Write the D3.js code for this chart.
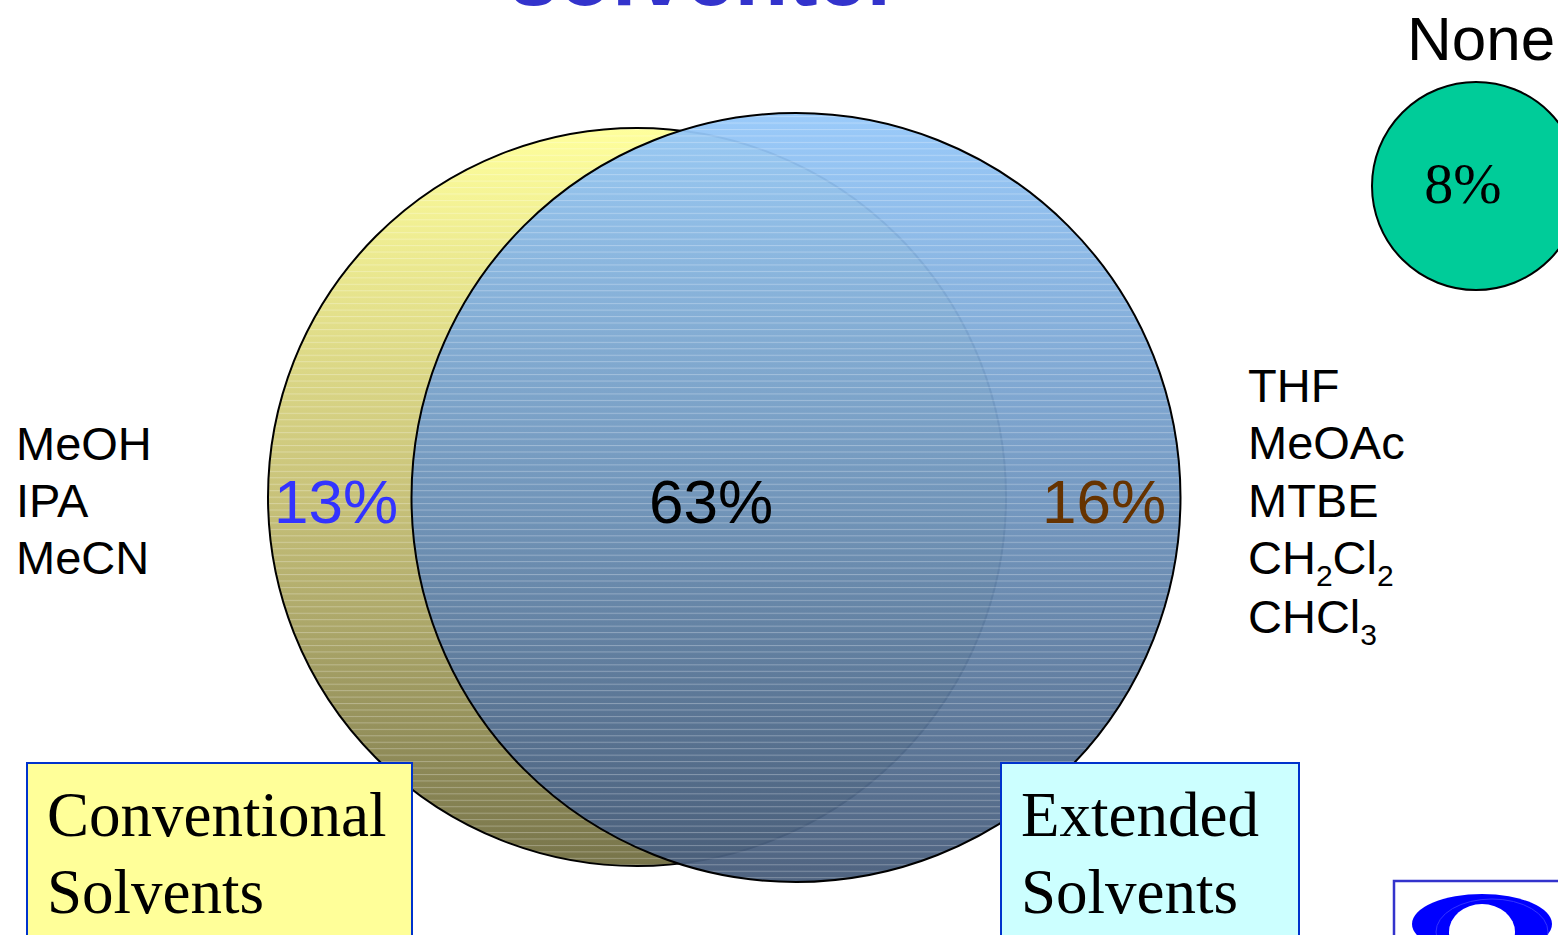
<!DOCTYPE html>
<html>
<head>
<meta charset="utf-8">
<script src="https://cdn.jsdelivr.net/npm/d3@7"></script>
<style>
  html, body { margin: 0; padding: 0; background: #fff; }
  svg { display: block; }
</style>
</head>
<body>
<svg id="chart" width="1558" height="935"></svg>
<script>
// ---------------- data ----------------
const titleText = "solventer";
const regionNames = ["Conventional only", "Both", "Extended only", "None"];
const regionShares = [13, 63, 16, 8];
const regionColors = ["#3333FF", "#000000", "#663300", "#000000"];
const setNames = ["Conventional", "Extended"];
const setBoxLabels = [["Conventional", "Solvents"], ["Extended", "Solvents"]];
const conventionalSolvents = ["MeOH", "IPA", "MeCN"];
const extendedSolvents = ["THF", "MeOAc", "MTBE", "CH_2Cl_2", "CHCl_3"];
const noneLabel = "None";

// ---------------- layout ----------------
const W = 1558, H = 935;
const svg = d3.select("#chart");
const defs = svg.append("defs");

const circles = [
  { key: "Conventional", cx: 637, cy: 497, r: 369, top: "#FFFF9C", mid: "#C8C27A", bot: "#77744A", opacity: 1 },
  { key: "Extended", cx: 796, cy: 497.5, r: 384.5, top: "#95C8FA", mid: "#6E94BE", bot: "#465B79", opacity: 0.95 }
];

// gradients
circles.forEach((c, i) => {
  const g = defs.append("linearGradient")
    .attr("id", "grad" + i)
    .attr("gradientUnits", "userSpaceOnUse")
    .attr("x1", 0).attr("x2", 0)
    .attr("y1", c.cy - c.r).attr("y2", c.cy + c.r);
  g.append("stop").attr("offset", "0%").attr("stop-color", c.top);
  g.append("stop").attr("offset", "50%").attr("stop-color", c.mid);
  g.append("stop").attr("offset", "100%").attr("stop-color", c.bot);
  defs.append("clipPath").attr("id", "clip" + i)
    .append("circle").attr("cx", c.cx).attr("cy", c.cy).attr("r", c.r);
});

// stripe pattern
const pat = defs.append("pattern")
  .attr("id", "stripes")
  .attr("patternUnits", "userSpaceOnUse")
  .attr("width", 20).attr("height", 6.45);
pat.append("rect").attr("x", 0).attr("y", 0).attr("width", 20).attr("height", 1)
  .attr("fill", "#ffffff").attr("fill-opacity", 0.28);

// ---------------- title (cut off at top) ----------------
svg.append("text")
  .attr("x", 705).attr("y", 5)
  .attr("text-anchor", "middle")
  .attr("font-family", "Liberation Sans, Arial, sans-serif")
  .attr("font-weight", "bold")
  .attr("font-size", 88)
  .attr("fill", "#3333CC")
  .text(titleText);

// ---------------- circles ----------------
const cg = svg.append("g");
circles.forEach((c, i) => {
  const g = cg.append("g");
  g.append("circle")
    .attr("cx", c.cx).attr("cy", c.cy).attr("r", c.r)
    .attr("fill", `url(#grad${i})`)
    .attr("fill-opacity", c.opacity);
  g.append("rect")
    .attr("x", c.cx - c.r).attr("y", c.cy - c.r)
    .attr("width", 2 * c.r).attr("height", 2 * c.r)
    .attr("fill", "url(#stripes)")
    .attr("clip-path", `url(#clip${i})`);
  g.append("circle")
    .attr("cx", c.cx).attr("cy", c.cy).attr("r", c.r)
    .attr("fill", "none")
    .attr("stroke", "#000").attr("stroke-width", 2);
});

// None circle
const noneCircle = { cx: 1476, cy: 186, r: 104 };
svg.append("circle")
  .attr("cx", noneCircle.cx).attr("cy", noneCircle.cy).attr("r", noneCircle.r)
  .attr("fill", "#00CC99").attr("stroke", "#000").attr("stroke-width", 2);

svg.append("text")
  .attr("x", 1407).attr("y", 60)
  .attr("font-family", "Liberation Sans, Arial, sans-serif")
  .attr("font-size", 62)
  .attr("fill", "#000")
  .text(noneLabel);

// ---------------- region percentages ----------------
const regionPos = [
  { x: 336, y: 523, font: "Liberation Sans, Arial, sans-serif", size: 62 },
  { x: 711, y: 523, font: "Liberation Sans, Arial, sans-serif", size: 62 },
  { x: 1104, y: 523, font: "Liberation Sans, Arial, sans-serif", size: 62 },
  { x: 1463, y: 203, font: "Liberation Serif, Times New Roman, serif", size: 58 }
];
svg.append("g").selectAll("text")
  .data(regionShares)
  .join("text")
  .attr("x", (d, i) => regionPos[i].x)
  .attr("y", (d, i) => regionPos[i].y)
  .attr("text-anchor", "middle")
  .attr("font-family", (d, i) => regionPos[i].font)
  .attr("font-size", (d, i) => regionPos[i].size)
  .attr("fill", (d, i) => regionColors[i])
  .text(d => d + "%");

// ---------------- solvent lists ----------------
const listFont = "Liberation Sans, Arial, sans-serif";
svg.append("g").selectAll("text")
  .data(conventionalSolvents)
  .join("text")
  .attr("x", 16)
  .attr("y", (d, i) => 460 + i * 57)
  .attr("font-family", listFont)
  .attr("font-size", 47)
  .attr("fill", "#000")
  .text(d => d);

const extY = [402, 459, 517, 574, 633];
const ext = svg.append("g").selectAll("text")
  .data(extendedSolvents)
  .join("text")
  .attr("x", 1248)
  .attr("y", (d, i) => extY[i])
  .attr("font-family", listFont)
  .attr("font-size", 47)
  .attr("fill", "#000");
ext.each(function(d) {
  const t = d3.select(this);
  const parts = d.split(/(_\d)/).filter(p => p.length);
  let sub = false;
  parts.forEach(p => {
    if (p.startsWith("_")) {
      t.append("tspan").attr("font-size", 30).attr("dy", 12).text(p.slice(1));
      sub = true;
    } else {
      t.append("tspan").attr("dy", sub ? -12 : 0).text(p);
      sub = false;
    }
  });
});

// ---------------- set label boxes ----------------
const boxes = [
  { x: 27, y: 763, w: 385, fill: "#FFFF99", tx: 47 },
  { x: 1001, y: 763, w: 298, fill: "#CCFFFF", tx: 1021 }
];
const bg = svg.append("g").selectAll("g")
  .data(setBoxLabels)
  .join("g");
bg.append("rect")
  .attr("x", (d, i) => boxes[i].x).attr("y", (d, i) => boxes[i].y)
  .attr("width", (d, i) => boxes[i].w).attr("height", 200)
  .attr("fill", (d, i) => boxes[i].fill)
  .attr("stroke", "#0033CC").attr("stroke-width", 2);
bg.each(function(lines, i) {
  d3.select(this).selectAll("text.lbl")
    .data(lines)
    .join("text")
    .attr("class", "lbl")
    .attr("x", boxes[i].tx)
    .attr("y", (d, j) => 836 + j * 77)
    .attr("font-family", "Liberation Serif, Times New Roman, serif")
    .attr("font-size", 63)
    .attr("fill", "#000")
    .text(d => d);
});

// ---------------- logo fragment (bottom right) ----------------
const logo = svg.append("g");
logo.append("rect")
  .attr("x", 1394).attr("y", 881).attr("width", 200).attr("height", 80)
  .attr("fill", "#fff").attr("stroke", "#3333CC").attr("stroke-width", 2.5);
logo.append("ellipse")
  .attr("cx", 1482).attr("cy", 924).attr("rx", 70).attr("ry", 30)
  .attr("fill", "#0000FF");
logo.append("ellipse")
  .attr("cx", 1482).attr("cy", 932).attr("rx", 33).attr("ry", 28)
  .attr("fill", "#fff");
logo.append("ellipse")
  .attr("cx", 1492).attr("cy", 932).attr("rx", 56).attr("ry", 33)
  .attr("fill", "none").attr("stroke", "#3333FF").attr("stroke-width", 1);
</script>
</body>
</html>
